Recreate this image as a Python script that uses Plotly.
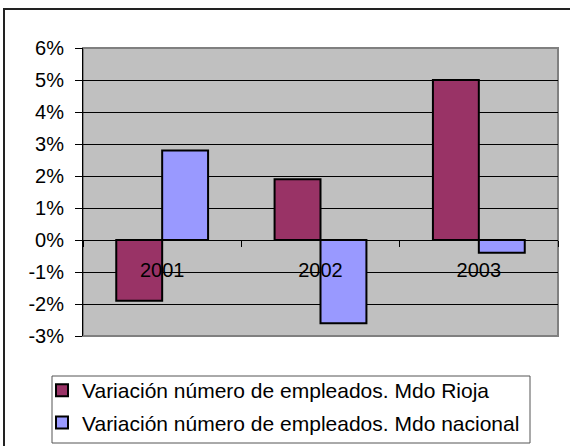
import plotly.graph_objects as go

YEARS = ["2001", "2002", "2003"]
RIOJA = [-0.019, 0.019, 0.050]
NACIONAL = [0.028, -0.026, -0.004]
Y_TICKS = [-0.03, -0.02, -0.01, 0.0, 0.01, 0.02, 0.03, 0.04, 0.05, 0.06]
Y_LABELS = ["-3%", "-2%", "-1%", "0%", "1%", "2%", "3%", "4%", "5%", "6%"]

NAMES = [
    "Variación número de empleados. Mdo Rioja",
    "Variación número de empleados. Mdo nacional",
]

fig = go.Figure()
fig.add_trace(go.Bar(
    x=YEARS, y=RIOJA, name=NAMES[0], legendgroup="a",
    marker={"color": "#993366", "line": {"color": "#000000", "width": 2}},
))
fig.add_trace(go.Bar(
    x=YEARS, y=NACIONAL, name=NAMES[1], legendgroup="b",
    marker={"color": "#9999FF", "line": {"color": "#000000", "width": 2}},
))

# plot area sits at x 83..558, y 48..336 (page pixels)
def px_x(p):
    return (p - 83) / 475


def px_y(p):
    return (336 - p) / 288


fig.update_layout(
    width=570, height=446,
    margin={"l": 83, "r": 12, "t": 48, "b": 110, "autoexpand": False},
    paper_bgcolor="#FFFFFF",
    plot_bgcolor="#C0C0C0",
    font={"family": "Liberation Sans, Arial, sans-serif", "color": "#000000", "size": 20},
    barmode="group", bargap=0.42, bargroupgap=0,
    legend={
        "x": px_x(42), "y": px_y(370), "xanchor": "left", "yanchor": "top",
        "borderwidth": 0, "bgcolor": "rgba(0,0,0,0)",
        "traceorder": "grouped", "tracegroupgap": 2,
        "font": {"size": 21},
    },
    shapes=[
        {"type": "rect", "xref": "paper", "yref": "paper", "x0": 0, "x1": 1, "y0": 0, "y1": 1,
         "line": {"color": "#808080", "width": 2}, "layer": "below"},
        # outer chart frame
        {"type": "rect", "xref": "paper", "yref": "paper", "x0": px_x(4), "x1": px_x(580),
         "y0": px_y(460), "y1": px_y(9), "line": {"color": "#222222", "width": 2}},
        # legend frame
        {"type": "rect", "xref": "paper", "yref": "paper", "x0": px_x(52), "x1": px_x(530),
         "y0": px_y(443), "y1": px_y(376), "line": {"color": "#555555", "width": 1}},
    ],
)

fig.update_xaxes(
    anchor="free", position=1 / 3, automargin=False,
    showline=True, linecolor="#000000", linewidth=1,
    ticks="outside", tickson="boundaries", ticklen=6, tickcolor="#000000",
    ticklabelstandoff=12, showgrid=False,
)
fig.update_yaxes(
    range=[-0.03, 0.06], tickvals=Y_TICKS, ticktext=Y_LABELS, automargin=False,
    showline=True, linecolor="#000000", linewidth=1,
    ticks="outside", ticklen=7, tickcolor="#000000", ticklabelstandoff=7,
    showgrid=True, gridcolor="#000000", gridwidth=1,
    zeroline=True, zerolinecolor="#000000", zerolinewidth=1,
)

# drop the browser's default 8px body margin so the figure fills the window
fig.write_html(
    "out.html",
    config={"displayModeBar": False},
    post_script="document.body.style.margin = '0px';",
)
